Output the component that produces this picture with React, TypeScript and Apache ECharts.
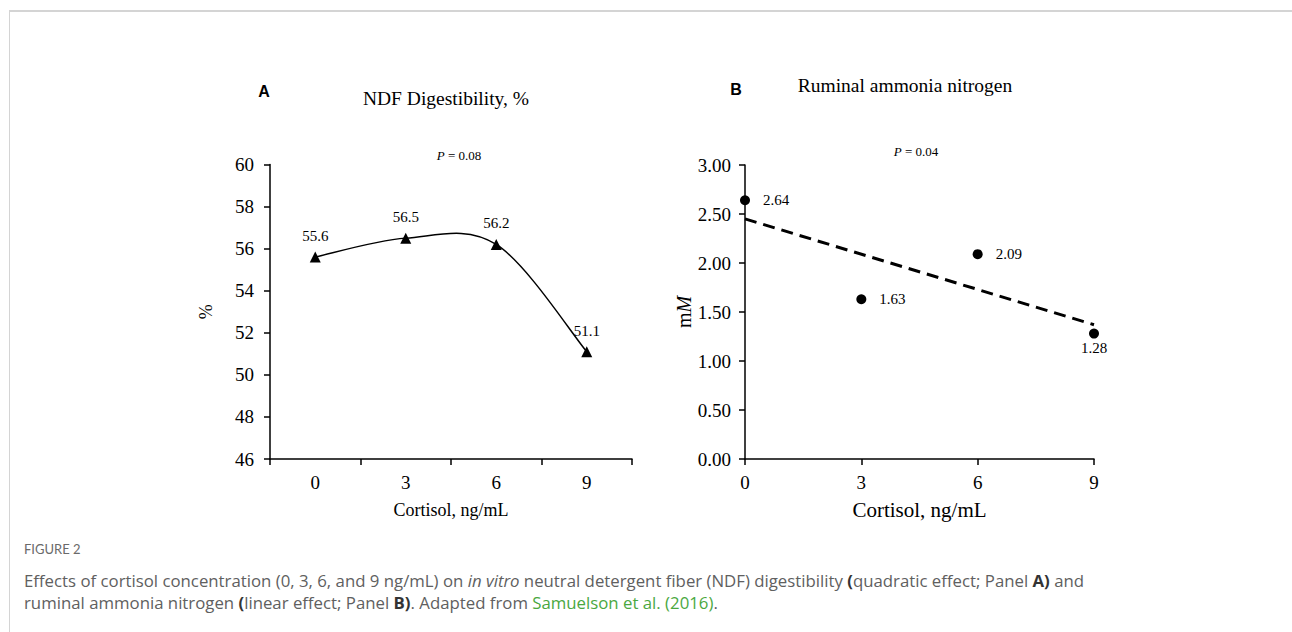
import React, { useEffect, useRef } from "react";
import * as echarts from "echarts";

// Panel A: NDF digestibility
const cortisolA = ["0", "3", "6", "9"];
const ndfDigestibility = [55.6, 56.5, 56.2, 51.1];
const yMinA = 46;
const yMaxA = 60;
const yStepA = 2;

// Panel B: ruminal ammonia nitrogen
const cortisolB = [0, 3, 6, 9];
const ammoniaN = [2.64, 1.63, 2.09, 1.28];
const trendX = [0, 9];
const trendY = [2.45, 1.37];
const yMinB = 0;
const yMaxB = 3;
const yStepB = 0.5;
const xStepB = 3;

const SERIF = "'Liberation Serif', 'Times New Roman', serif";
const SANS = "'Liberation Sans', Arial, sans-serif";
const CAP = "'Open Sans', 'Noto Sans', sans-serif";
const CAPHEAD = "Lato, 'Open Sans', sans-serif";
const CAPCOLOR = "#606060";
const CAPSIZE = 16.8;

export default function App() {
  const ref = useRef<HTMLDivElement>(null);

  useEffect(() => {
    if (!ref.current) return;
    const chart = echarts.init(ref.current, undefined, { renderer: "svg" });

    const axisLine = { show: true, lineStyle: { color: "#000", width: 1.5 } };
    const axisTick = { show: true, length: 6, lineStyle: { color: "#000", width: 1.5 } };
    const tickLabel = { color: "#000", fontFamily: SERIF, fontSize: 19 };

    const capRich = {
      n: { fontFamily: CAP, fontSize: CAPSIZE, fill: CAPCOLOR },
      i: { fontFamily: CAP, fontSize: CAPSIZE, fill: CAPCOLOR, fontStyle: "italic" },
      b: { fontFamily: CAP, fontSize: CAPSIZE, fill: "#333", fontWeight: "bold" },
      g: { fontFamily: CAP, fontSize: CAPSIZE, fill: "#4aa83f" },
    };

    // Smooth curve through the data points (cardinal spline like a spreadsheet "smoothed line")
    const renderCurve = (params: any, api: any) => {
      if (params.dataIndex !== 0) return null;
      const pts = ndfDigestibility.map((v, i) => api.coord([i, v]));
      const n = pts.length;
      let d = `M${pts[0][0]},${pts[0][1]}`;
      for (let i = 0; i < n - 1; i++) {
        const p0 = pts[Math.max(i - 1, 0)];
        const p1 = pts[i];
        const p2 = pts[i + 1];
        const p3 = pts[Math.min(i + 2, n - 1)];
        const c1x = p1[0] + (p2[0] - p0[0]) / 6;
        const c1y = p1[1] + (p2[1] - p0[1]) / 6;
        const c2x = p2[0] - (p3[0] - p1[0]) / 6;
        const c2y = p2[1] - (p3[1] - p1[1]) / 6;
        d += ` C${c1x},${c1y} ${c2x},${c2y} ${p2[0]},${p2[1]}`;
      }
      return {
        type: "path",
        shape: { pathData: d },
        style: { fill: "none", stroke: "#000", lineWidth: 1.5 },
      };
    };

    const option: any = {
      animation: false,
      backgroundColor: "#fff",
      grid: [
        { left: 270, right: 660, top: 164.5, bottom: 173 },
        { left: 745, right: 198, top: 165, bottom: 173 },
      ],
      xAxis: [
        {
          type: "category",
          gridIndex: 0,
          data: cortisolA,
          boundaryGap: true,
          axisLine,
          axisTick: { ...axisTick, alignWithLabel: false },
          axisLabel: { ...tickLabel, margin: 14 },
          splitLine: { show: false },
          name: "Cortisol, ng/mL",
          nameLocation: "middle",
          nameGap: 42,
          nameTextStyle: { color: "#000", fontFamily: SERIF, fontSize: 18 },
        },
        {
          type: "value",
          gridIndex: 1,
          min: 0,
          max: 9,
          interval: xStepB,
          axisLine,
          axisTick,
          axisLabel: { ...tickLabel, margin: 14 },
          splitLine: { show: false },
          name: "Cortisol, ng/mL",
          nameLocation: "middle",
          nameGap: 40,
          nameTextStyle: { color: "#000", fontFamily: SERIF, fontSize: 21 },
        },
      ],
      yAxis: [
        {
          type: "value",
          gridIndex: 0,
          min: yMinA,
          max: yMaxA,
          interval: yStepA,
          axisLine,
          axisTick,
          axisLabel: { ...tickLabel, margin: 16 },
          splitLine: { show: false },
          name: "%",
          nameLocation: "middle",
          nameGap: 55,
          nameRotate: 90,
          nameTextStyle: { color: "#000", fontFamily: SERIF, fontSize: 18 },
        },
        {
          type: "value",
          gridIndex: 1,
          min: yMinB,
          max: yMaxB,
          interval: yStepB,
          axisLine,
          axisTick,
          axisLabel: {
            ...tickLabel,
            margin: 14,
            formatter: (v: number) => v.toFixed(2),
          },
          splitLine: { show: false },
          name: "{a|m}{b|M}",
          nameLocation: "middle",
          nameGap: 38,
          nameRotate: 90,
          nameTextStyle: {
            color: "#000",
            fontFamily: SERIF,
            fontSize: 20,
            rich: {
              a: { fontFamily: SERIF, fontSize: 20, color: "#000" },
              b: { fontFamily: SERIF, fontSize: 20, color: "#000", fontStyle: "italic" },
            },
          },
        },
      ],
      series: [
        {
          type: "custom",
          xAxisIndex: 0,
          yAxisIndex: 0,
          data: ndfDigestibility.map((v, i) => [i, v]),
          renderItem: renderCurve,
          silent: true,
          z: 1,
        },
        {
          type: "line",
          xAxisIndex: 0,
          yAxisIndex: 0,
          data: ndfDigestibility,
          symbol: "triangle",
          symbolSize: 11,
          lineStyle: { opacity: 0 },
          itemStyle: { color: "#000", opacity: 1 },
          z: 3,
          label: {
            show: true,
            position: "top",
            distance: 8,
            color: "#000",
            fontFamily: SERIF,
            fontSize: 15,
            formatter: (p: any) => p.value.toFixed(1),
          },
        },
        {
          type: "line",
          xAxisIndex: 1,
          yAxisIndex: 1,
          data: trendX.map((x, i) => [x, trendY[i]]),
          symbol: "none",
          lineStyle: { color: "#000", width: 3, type: [12, 7] },
          z: 1,
        },
        {
          type: "scatter",
          xAxisIndex: 1,
          yAxisIndex: 1,
          data: cortisolB.map((x, i) => ({
            value: [x, ammoniaN[i]],
            label: i === cortisolB.length - 1 ? { position: "bottom", distance: 2 } : undefined,
          })),
          symbol: "circle",
          symbolSize: 10,
          itemStyle: { color: "#000", opacity: 1 },
          z: 3,
          label: {
            show: true,
            position: "right",
            distance: 13,
            color: "#000",
            fontFamily: SERIF,
            fontSize: 15,
            formatter: (p: any) => p.value[1].toFixed(2),
          },
        },
      ],
      graphic: [
        // figure frame
        { type: "line", shape: { x1: 9, y1: 11, x2: 1292, y2: 11 }, style: { stroke: "#d4d4d4", lineWidth: 2 } },
        { type: "line", shape: { x1: 9.5, y1: 11, x2: 9.5, y2: 632 }, style: { stroke: "#d4d4d4", lineWidth: 1 } },
        // panel letters
        { type: "text", x: 264, y: 91, style: { text: "A", fontFamily: SANS, fontWeight: "bold", fontSize: 16, fill: "#000", align: "center", verticalAlign: "middle" } },
        { type: "text", x: 736, y: 89, style: { text: "B", fontFamily: SANS, fontWeight: "bold", fontSize: 16, fill: "#000", align: "center", verticalAlign: "middle" } },
        // panel titles
        { type: "text", x: 446, y: 98, style: { text: "NDF Digestibility, %", fontFamily: SERIF, fontSize: 19.5, fill: "#000", align: "center", verticalAlign: "middle" } },
        { type: "text", x: 905, y: 85, style: { text: "Ruminal ammonia nitrogen", fontFamily: SERIF, fontSize: 19.5, fill: "#000", align: "center", verticalAlign: "middle" } },
        // P values
        {
          type: "text", x: 459, y: 155,
          style: {
            text: "{i|P} = 0.08", align: "center", verticalAlign: "middle", fontFamily: SERIF, fontSize: 13, fill: "#000",
            rich: { i: { fontFamily: SERIF, fontSize: 13, fontStyle: "italic", fill: "#000" } },
          },
        },
        {
          type: "text", x: 916, y: 151,
          style: {
            text: "{i|P} = 0.04", align: "center", verticalAlign: "middle", fontFamily: SERIF, fontSize: 13, fill: "#000",
            rich: { i: { fontFamily: SERIF, fontSize: 13, fontStyle: "italic", fill: "#000" } },
          },
        },
        // caption
        { type: "text", x: 24, y: 549, style: { text: "FIGURE 2", fontFamily: CAPHEAD, fontSize: 13, fill: "#6a6a6a", verticalAlign: "middle" } },
        {
          type: "text", x: 24, y: 580,
          style: {
            text: "{n|Effects of cortisol concentration (0, 3, 6, and 9 ng/mL) on }{i|in vitro}{n| neutral detergent fiber (NDF) digestibility }{b|(}{n|quadratic effect; Panel }{b|A)}{n| and}",
            verticalAlign: "middle",
            rich: capRich,
          },
        },
        {
          type: "text", x: 24, y: 602,
          style: {
            text: "{n|ruminal ammonia nitrogen }{b|(}{n|linear effect; Panel }{b|B)}{n|. Adapted from }{g|Samuelson et al. (2016)}{n|.}",
            verticalAlign: "middle",
            rich: capRich,
          },
        },
      ],
    };

    chart.setOption(option);
    return () => chart.dispose();
  }, []);

  return (
    <div
      ref={ref}
      style={{ position: "absolute", left: 0, top: 0, width: 1292, height: 632, background: "#fff" }}
    />
  );
}
